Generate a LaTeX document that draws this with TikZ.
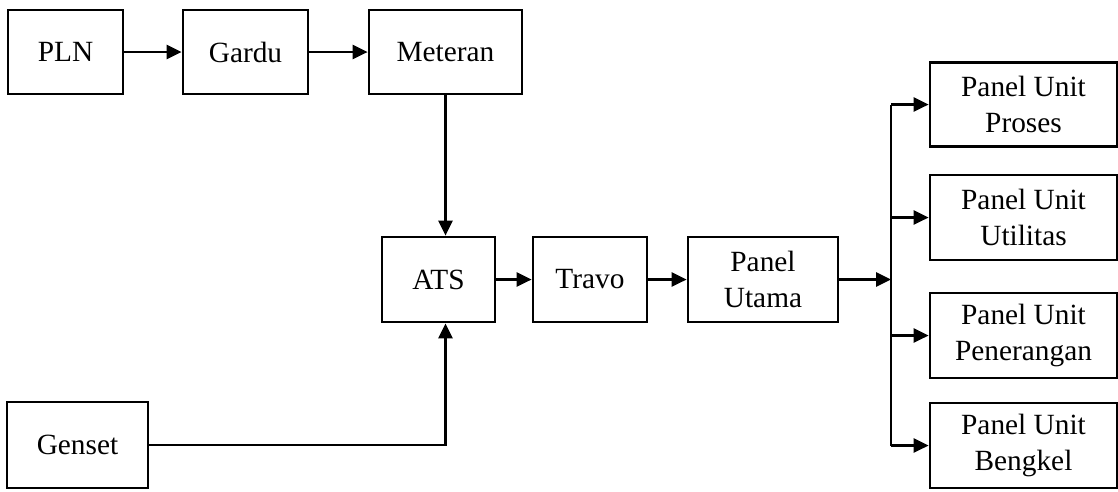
\documentclass[tikz,border=0pt]{standalone}
\usepackage{fontspec}
\setmainfont{Liberation Serif}
\usetikzlibrary{positioning, arrows.meta}
\tikzset{
    unit/.style={rectangle, draw=black, line width=1.6pt, inner sep=2pt, minimum height=1.68cm, align=center, font=\fontsize{16.7}{20}\selectfont},
    flow/.style={-{Triangle[length=8.5pt, width=8pt]}, line width=1.3pt},
    wire/.style={line width=1.3pt}
}

\begin{document}
\begin{tikzpicture}[x=0.02cm, y=-0.02cm]
        	\useasboundingbox (0,0) rectangle (1118,491);
        	% baris atas
        	\node (pln) [unit, minimum width=2.3cm] at (65.5,52) {PLN};
        	\node (gardu) [unit, minimum width=2.5cm] at (245.5,52) {Gardu};
        	\node (meteran) [unit, minimum width=3.06cm] at (445.5,52) {Meteran};
        	% baris tengah
        	\node (ats) [unit, minimum width=2.26cm, minimum height=1.7cm] at (438.5,279.5) {ATS};
        	\node (travo) [unit, minimum width=2.28cm, minimum height=1.7cm] at (590,279.5) {Travo};
        	\node (utama) [unit, minimum width=3.0cm, minimum height=1.7cm] at (763,279.5) {Panel\\Utama};
        	\node (genset) [unit, minimum width=2.82cm, minimum height=1.72cm] at (77.5,445) {Genset};
        	% panel unit
        	\node (proses) [unit, minimum width=3.74cm] at (1023.5,104.5) {Panel Unit\\Proses};
        	\node (utilitas) [unit, minimum width=3.74cm, minimum height=1.7cm] at (1023.5,217.5) {Panel Unit\\Utilitas};
        	\node (penerangan) [unit, minimum width=3.74cm, minimum height=1.7cm] at (1023.5,335.5) {Panel Unit\\Penerangan};
        	\node (bengkel) [unit, minimum width=3.74cm, minimum height=1.7cm] at (1023.5,445.5) {Panel Unit\\Bengkel};
        	\coordinate (bus) at (891,279.5);
        	
        	\draw[flow] (pln) -- (gardu);
        	\draw[flow] (gardu) -- (meteran);
        	\draw[flow] (meteran.south) -- (meteran.south |- ats.north);
        	\draw[flow] (genset.east) -| (meteran.south |- ats.south);
        	\draw[flow] (ats) -- (travo);
        	\draw[flow] (travo) -- (utama);
        	\draw[flow] (utama) -- (bus);
        	\draw[wire] (bus |- proses.west) -- (bus |- bengkel.west);
        	\foreach \p in {proses, utilitas, penerangan, bengkel}
        		\draw[flow] (bus |- \p.west) -- (\p.west);
        \end{tikzpicture}
\end{document}
